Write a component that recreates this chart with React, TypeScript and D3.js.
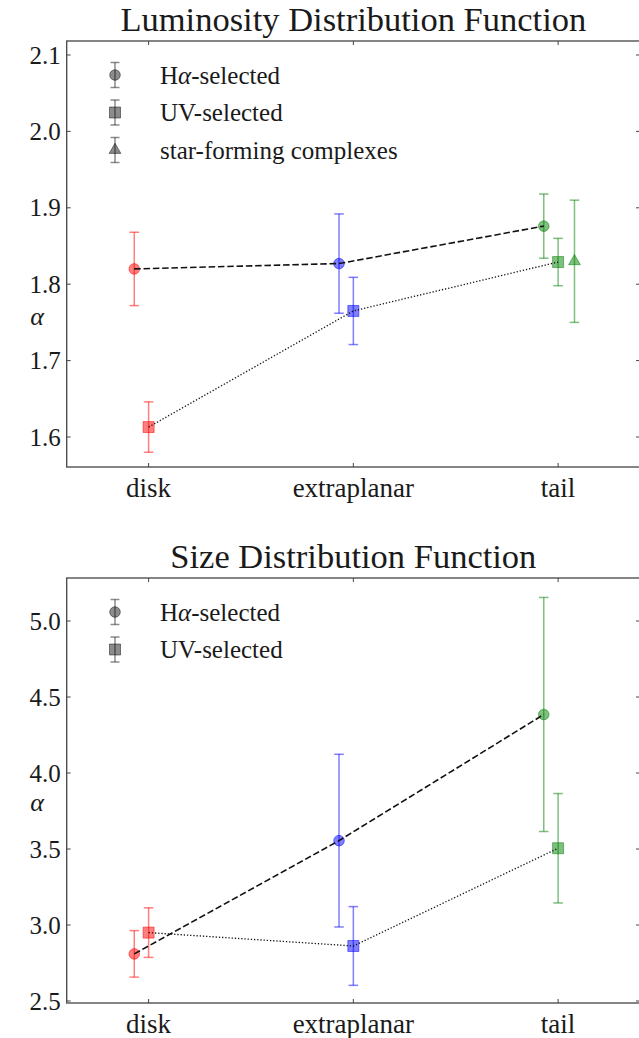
import React from "react";
import * as d3 from "d3";

// Region categories along the x axis
const categories = ["disk", "extraplanar", "tail"];
const categoryColors = ["#ff0000", "#0000ff", "#008000"];

// Luminosity distribution function slopes
const lumHa = [1.82, 1.827, 1.876];
const lumHaErr = [0.048, 0.065, 0.042];
const lumUV = [1.613, 1.765, 1.829];
const lumUVErr = [0.033, 0.044, 0.031];
const lumSFC: (number | null)[] = [null, null, 1.83];
const lumSFCErr: (number | null)[] = [null, null, 0.08];
const lumTicks = [1.6, 1.7, 1.8, 1.9, 2.0, 2.1];

// Size distribution function slopes
const sizeHa = [2.81, 3.555, 4.385];
const sizeHaErr = [0.153, 0.568, 0.77];
const sizeUV = [2.95, 2.862, 3.505];
const sizeUVErr = [0.163, 0.259, 0.36];
const sizeTicks = [2.5, 3.0, 3.5, 4.0, 4.5, 5.0];

const FONT = "'Liberation Serif', 'DejaVu Serif', serif";
const TEXT = "#1a1a1a";
const AXIS = "#444";

type Shape = "circle" | "square" | "triangle";
type Series = {
  values: (number | null)[];
  errs: (number | null)[];
  offset: number;
  shape: Shape;
  line: "dashed" | "dotted" | null;
};

const symbolPath = (shape: Shape) => {
  if (shape === "circle") return d3.symbol(d3.symbolCircle, Math.PI * 5.3 * 5.3)();
  if (shape === "square") return d3.symbol(d3.symbolSquare, 11 * 11)();
  return d3.symbol(d3.symbolTriangle, 60)();
};

const LegendLabel = ({ text }: { text: string }) => {
  // "α" is set in italics, as in math mode
  const parts = text.split("α");
  return (
    <>
      {parts.map((p, i) => (
        <React.Fragment key={i}>
          {i > 0 && <tspan fontStyle="italic">α</tspan>}
          <tspan>{p}</tspan>
        </React.Fragment>
      ))}
    </>
  );
};

function Panel(props: {
  top: number;
  bottom: number;
  domain: [number, number];
  ticks: number[];
  title: string;
  series: Series[];
  legend: { shape: Shape; label: string }[];
  ylabelY: number;
}) {
  const { top, bottom, domain, ticks, title, series, legend, ylabelY } = props;
  const left = 66.7;
  const right = 640;
  const x = d3.scaleLinear().domain([-0.4, 2.4]).range([left, right]);
  const y = d3.scaleLinear().domain(domain).range([bottom, top]);
  const fmt = d3.format(".1f");
  const cap = 4.8;

  return (
    <g>
      <text
        x={(left + right) / 2}
        y={top - 10}
        textAnchor="middle"
        fontFamily={FONT}
        fontSize={34.5}
        fill={TEXT}
      >
        {title}
      </text>

      {/* error bars and markers */}
      {series.map((s, si) => (
        <g key={si}>
          {s.values.map((v, i) => {
            if (v == null) return null;
            const e = s.errs[i] as number;
            const cx = x(i + s.offset);
            const c = categoryColors[i];
            return (
              <g key={i}>
                <g stroke={c} strokeOpacity={0.5} strokeWidth={1.5}>
                  <line x1={cx} x2={cx} y1={y(v - e)} y2={y(v + e)} />
                  <line x1={cx - cap} x2={cx + cap} y1={y(v - e)} y2={y(v - e)} />
                  <line x1={cx - cap} x2={cx + cap} y1={y(v + e)} y2={y(v + e)} />
                </g>
                <path
                  d={symbolPath(s.shape) as string}
                  transform={`translate(${cx},${y(v)})`}
                  fill={c}
                  fillOpacity={0.5}
                  stroke={c}
                  strokeOpacity={0.5}
                  strokeWidth={1}
                />
              </g>
            );
          })}
        </g>
      ))}

      {/* connecting lines */}
      {series.map((s, si) => {
        if (!s.line) return null;
        const pts = s.values
          .map((v, i) => (v == null ? null : ([x(i + s.offset), y(v)] as [number, number])))
          .filter((p): p is [number, number] => p !== null);
        const path = d3.line()(pts) as string;
        return s.line === "dashed" ? (
          <path key={si} d={path} fill="none" stroke="#111" strokeWidth={1.6} strokeDasharray="6.5,2.8" />
        ) : (
          <path key={si} d={path} fill="none" stroke="#111" strokeWidth={1.3} strokeDasharray="1.3,1.9" />
        );
      })}

      {/* frame */}
      <rect x={left} y={top} width={right - left} height={bottom - top} fill="none" stroke={AXIS} strokeWidth={1.3} />

      {/* y ticks */}
      {ticks.map((t) => (
        <g key={t}>
          <line x1={left} x2={left + 4} y1={y(t)} y2={y(t)} stroke={AXIS} strokeWidth={1} />
          <line x1={right - 4} x2={right} y1={y(t)} y2={y(t)} stroke={AXIS} strokeWidth={1} />
          <text x={left - 6} y={y(t) + 8.5} textAnchor="end" fontFamily={FONT} fontSize={25} fill={TEXT}>
            {fmt(t)}
          </text>
        </g>
      ))}

      {/* x ticks */}
      {categories.map((c, i) => (
        <g key={c}>
          <line x1={x(i)} x2={x(i)} y1={bottom} y2={bottom - 4} stroke={AXIS} strokeWidth={1} />
          <line x1={x(i)} x2={x(i)} y1={top} y2={top + 4} stroke={AXIS} strokeWidth={1} />
          <text x={x(i)} y={bottom + 30} textAnchor="middle" fontFamily={FONT} fontSize={27} fill={TEXT}>
            {c}
          </text>
        </g>
      ))}

      {/* y label */}
      <text x={37} y={ylabelY + 5} textAnchor="middle" fontFamily={FONT} fontStyle="italic" fontSize={26} fill={TEXT}>
        α
      </text>

      {/* legend */}
      {legend.map((l, i) => {
        const ly = top + 34 + i * 37.5;
        const lx = 115;
        return (
          <g key={l.label}>
            <g stroke="#000" strokeOpacity={0.45} strokeWidth={1.5}>
              <line x1={lx} x2={lx} y1={ly - 12.5} y2={ly + 12.5} />
              <line x1={lx - 4.5} x2={lx + 4.5} y1={ly - 12.5} y2={ly - 12.5} />
              <line x1={lx - 4.5} x2={lx + 4.5} y1={ly + 12.5} y2={ly + 12.5} />
            </g>
            <path
              d={symbolPath(l.shape) as string}
              transform={`translate(${lx},${ly})`}
              fill="#000"
              fillOpacity={0.45}
              stroke="#000"
              strokeOpacity={0.45}
              strokeWidth={1}
            />
            <text x={160} y={ly + 8.5} fontFamily={FONT} fontSize={25} fill={TEXT}>
              <LegendLabel text={l.label} />
            </text>
          </g>
        );
      })}
    </g>
  );
}

export default function App() {
  const lumSeries: Series[] = [
    { values: lumHa, errs: lumHaErr, offset: -0.07, shape: "circle", line: "dashed" },
    { values: lumUV, errs: lumUVErr, offset: 0, shape: "square", line: "dotted" },
    { values: lumSFC, errs: lumSFCErr, offset: 0.08, shape: "triangle", line: null },
  ];
  const sizeSeries: Series[] = [
    { values: sizeHa, errs: sizeHaErr, offset: -0.07, shape: "circle", line: "dashed" },
    { values: sizeUV, errs: sizeUVErr, offset: 0, shape: "square", line: "dotted" },
  ];
  return (
    <div style={{ position: "absolute", left: 0, top: 0 }}>
      <svg width={639} height={1038} style={{ display: "block", background: "#fff" }}>
        <Panel
          top={41}
          bottom={467}
          domain={[1.6 - 30 / 764, 2.1 + 14 / 764]}
          ticks={lumTicks}
          title="Luminosity Distribution Function"
          series={lumSeries}
          legend={[
            { shape: "circle", label: "Hα-selected" },
            { shape: "square", label: "UV-selected" },
            { shape: "triangle", label: "star-forming complexes" },
          ]}
          ylabelY={320}
        />
        <Panel
          top={578}
          bottom={1003}
          domain={[2.5 - 2 / 152, 5.0 + 43 / 152]}
          ticks={sizeTicks}
          title="Size Distribution Function"
          series={sizeSeries}
          legend={[
            { shape: "circle", label: "Hα-selected" },
            { shape: "square", label: "UV-selected" },
          ]}
          ylabelY={806}
        />
      </svg>
    </div>
  );
}
